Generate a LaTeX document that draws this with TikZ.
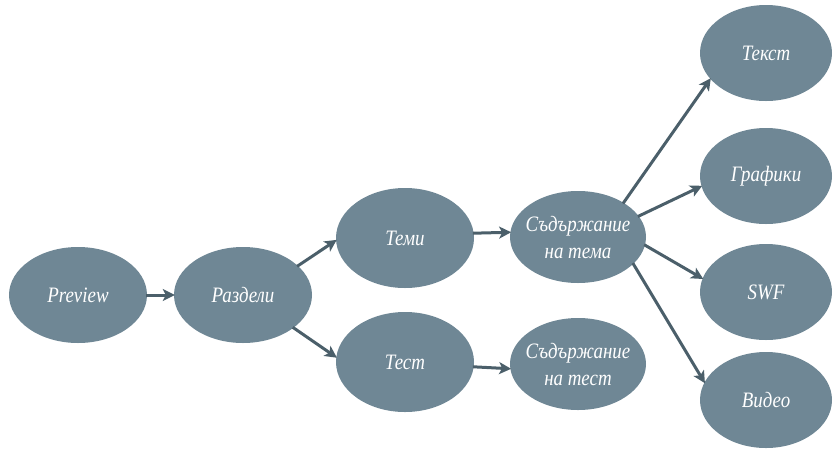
\documentclass[tikz,border=0pt]{standalone}
\usepackage{fontspec}
\setmainfont{Liberation Serif}[FakeStretch=0.86]
\usetikzlibrary{shapes.geometric,arrows.meta}
\definecolor{nodefill}{HTML}{6F8795}
\definecolor{arrowcol}{HTML}{4B5F6A}
\tikzset{
  x=1pt,y=-1pt,
  bubble/.style={ellipse,fill=nodefill,draw=none,minimum width=138pt,minimum height=96pt,inner sep=0pt,
    text=white,font=\itshape\fontsize{22}{27}\selectfont,align=center},
  widebubble/.style={bubble,minimum width=136pt,minimum height=92pt,inner xsep=-16pt},
  link/.style={draw=arrowcol,line width=3pt,-{Stealth[length=12pt,width=12pt,inset=3pt]},shorten >=-1pt,shorten <=-1pt}
}
\begin{document}
\begin{tikzpicture}
\useasboundingbox (0,0) rectangle (833,451);
\node[bubble] (preview) at (78,295) {Preview};
\node[bubble] (razdeli) at (243,295) {Раздели};
\node[bubble,minimum height=100pt] (temi) at (405,238) {Теми};
\node[bubble,minimum height=100pt] (test) at (405,362) {Тест};
\node[widebubble] (sdtema) at (578,237) {Съдържание\\на тема};
\node[widebubble] (sdtest) at (578,364) {Съдържание\\на тест};
\node[bubble,minimum width=132pt] (tekst) at (766,53) {Текст};
\node[bubble,minimum width=132pt] (grafiki) at (766,176) {Графики};
\node[bubble,minimum width=132pt] (swf) at (766,292) {SWF};
\node[bubble,minimum width=132pt] (video) at (766,400) {Видео};
\draw[link] (preview) -- (razdeli);
\draw[link] (razdeli.28) -- (temi.182);
\draw[link] (razdeli.-33) -- (test.176);
\draw[link] (temi.4) -- (sdtema.176);
\draw[link] (test.-4) -- (sdtest.184);
\draw[link] (sdtema.37) -- (tekst.205);
\draw[link] (sdtema.19) -- (grafiki.189);
\draw[link] (sdtema.-7) -- (swf.168);
\draw[link] (sdtema.-26) -- (video.164);
\end{tikzpicture}
\end{document}
